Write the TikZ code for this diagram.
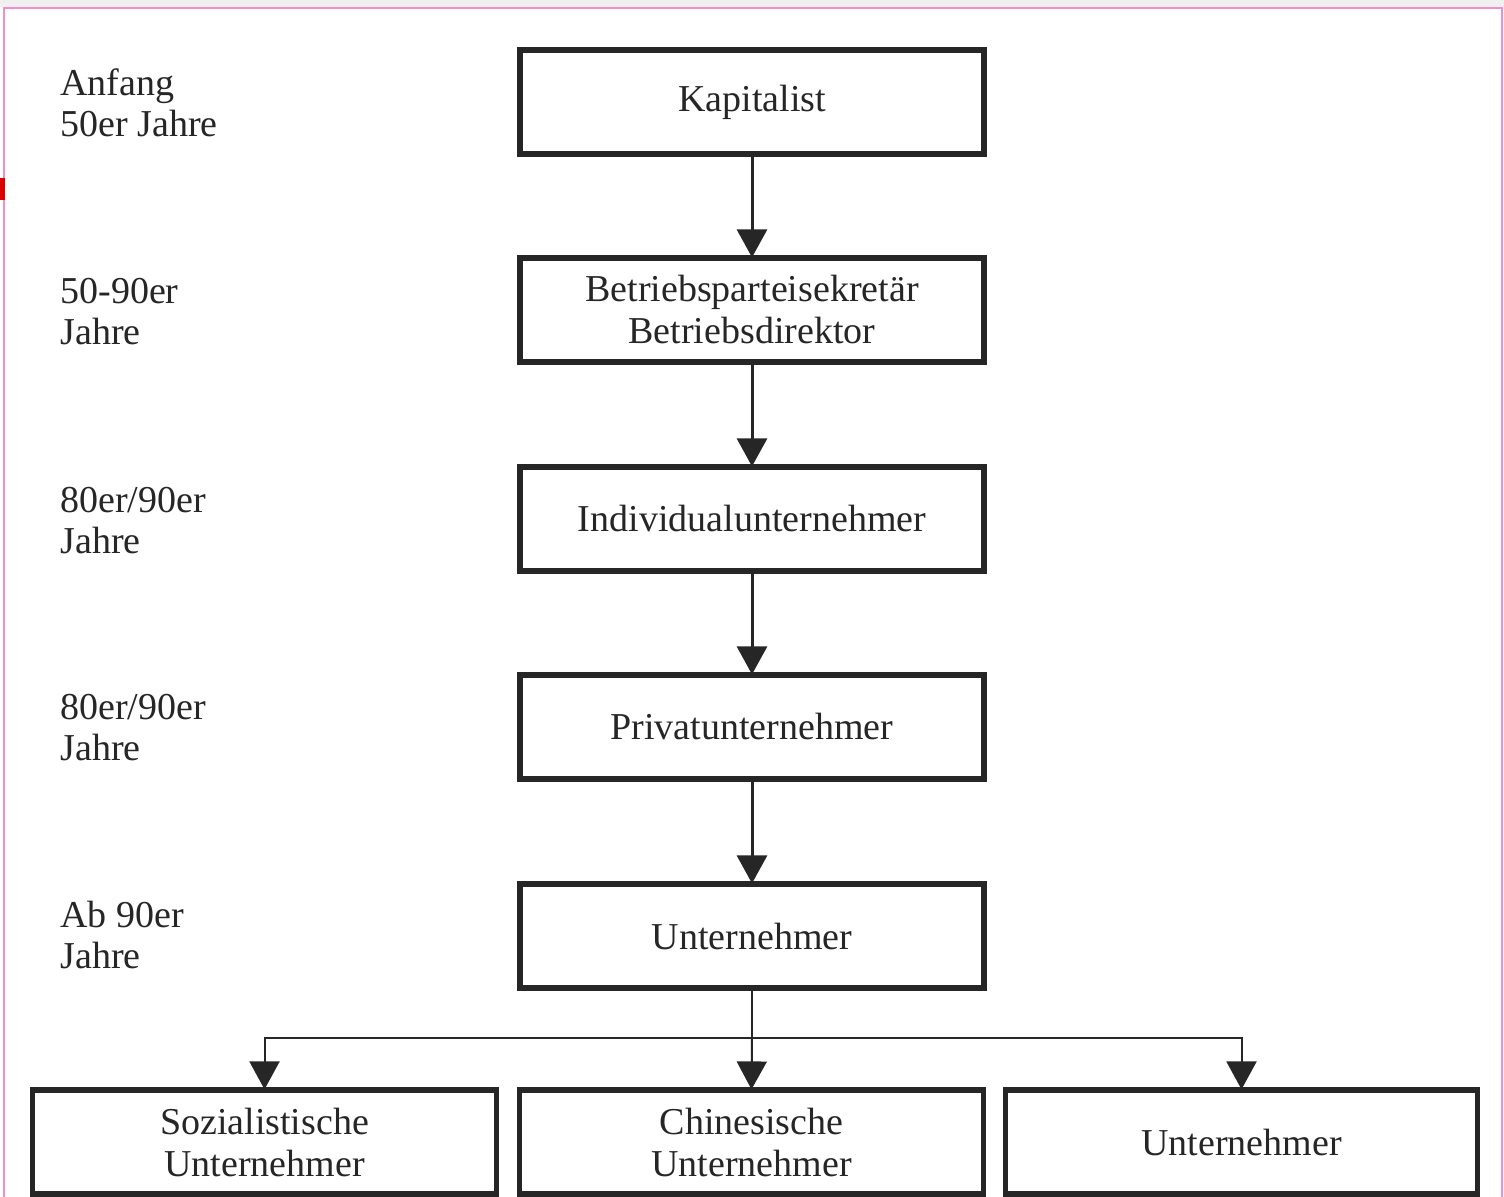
\documentclass[tikz,border=0pt]{standalone}
\usepackage{fontspec}
\setmainfont{Liberation Serif}
\usetikzlibrary{arrows.meta}
\begin{document}
\begin{tikzpicture}[x=0.5pt,y=-0.5pt,
  box/.style={draw=black!85, line width=2.6pt, minimum width=232pt, minimum height=52pt, inner sep=0pt, align=center, font=\fontsize{19}{21}\selectfont, text=black!85},
  lbl/.style={anchor=base west, align=left, font=\fontsize{19}{20.5}\selectfont, text=black!85, inner sep=0pt},
  arr/.style={draw=black!85, line width=1.5pt, -{Triangle[length=14pt,width=15pt]}, shorten >=-1pt},
  thin/.style={draw=black!85, line width=1pt}]
\useasboundingbox (0,0) rectangle (1504,1197);
\fill[white] (0,0) rectangle (1504,1197);
\fill[black!6] (0,0) rectangle (1504,7);
\draw[magenta!45, line width=1pt] (4,1197) -- (4,8) -- (1502,8) -- (1502,1197);
\fill[red!85!black] (0,178) rectangle (5,200);

% boxes
\node[box] (k) at (752,102) {\raisebox{-2pt}{Kapitalist}};
\node[box] (b) at (752,310) {Betriebsparteisekretär\\Betriebsdirektor};
\node[box] (i) at (752,519) {Individualunternehmer};
\node[box] (p) at (752,727) {Privatunternehmer};
\node[box] (u) at (752,936) {Unternehmer};
\node[box] (s) at (264.5,1142) {Sozialistische\\Unternehmer};
\node[box] (c) at (751.5,1142) {Chinesische\\Unternehmer};
\node[box, minimum width=236pt] (o) at (1241.5,1142) {Unternehmer};

% arrows
\draw[arr] (k) -- (b);
\draw[arr] (b) -- (i);
\draw[arr] (i) -- (p);
\draw[arr] (p) -- (u);
\coordinate (j) at (752,1038);
\draw[thin] (u.south) -- (j);
\draw[arr, line width=1pt] (j) -- (c.north);
\draw[arr, line width=1pt] (j) -| (s.north);
\draw[arr, line width=1pt] (j) -| (o.north);

% left labels (anchor base = last line)
\node[lbl] (l1) at (60,137) {Anfang\\50er Jahre};
\node[lbl] (l2) at (60,345) {50-90er\\Jahre};
\node[lbl] (l3) at (60,553) {80er/90er\\Jahre};
\node[lbl] (l4) at (60,760) {80er/90er\\Jahre};
\node[lbl] (l5) at (60,968) {Ab 90er\\Jahre};
\end{tikzpicture}
\end{document}
